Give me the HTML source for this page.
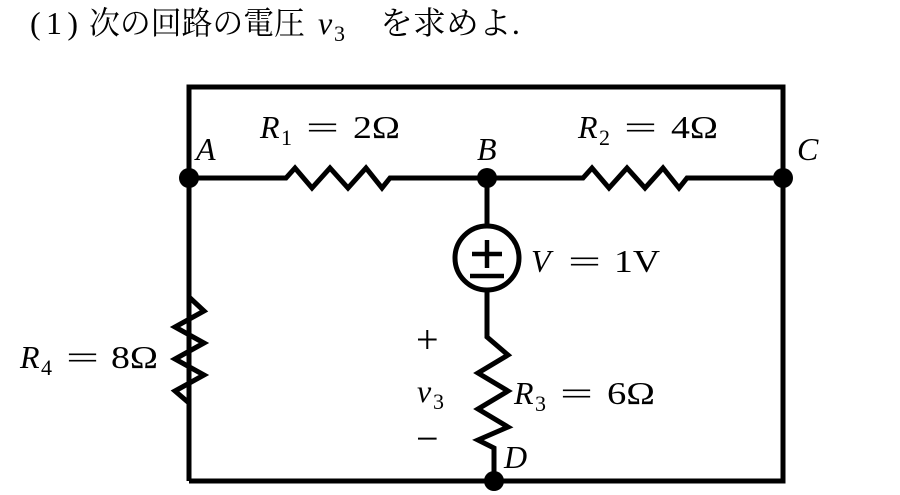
<!DOCTYPE html>
<html><head><meta charset="utf-8"><style>
body{margin:0;background:#fff;width:900px;height:495px;overflow:hidden}
svg{position:absolute;left:0;top:0}
text{font-family:"Liberation Serif","Noto Serif CJK SC",serif;font-size:32px;fill:#000}
.i{font-style:italic}
.s{font-size:22px}
</style></head><body>
<svg width="900" height="495" viewBox="0 0 900 495">
<g stroke="#000" stroke-width="5" fill="none" stroke-linejoin="miter">
<polyline points="189,481 189,87 783,87 783,481 189,481"/>
<polyline points="189,178 286,178 295,168 312,188 330,168 348,188 366,168 382,188 390,178 583,178 592,168 609,188 627,168 645,188 663,168 679,188 687,178 783,178"/>
<line x1="487" y1="178" x2="487" y2="226"/>
<circle cx="487" cy="258" r="32"/>
<polyline points="487,290 487,337 508,355 478,373 508,391 478,409 508,427 478,440 494,448 494,481"/>
<polyline points="189,297 204,311 175,327 204,343 175,359 204,375 175,391 189,403"/>
</g>
<g stroke="#000" stroke-width="4.5">
<line x1="472" y1="254" x2="502" y2="254"/>
<line x1="487" y1="240" x2="487" y2="268"/>
<line x1="470" y1="276" x2="504" y2="276"/>
</g>
<g fill="#000">
<circle cx="189" cy="178" r="10"/><circle cx="487" cy="178" r="10"/>
<circle cx="783" cy="178" r="10"/><circle cx="494" cy="481" r="10"/>
</g>
<text x="30" y="34" textLength="48" lengthAdjust="spacing">(1)</text>
<text x="89" y="34" textLength="216" lengthAdjust="spacingAndGlyphs">次の回路の電圧</text>
<text x="318" y="34" class="i">v</text><text x="334" y="41" class="s">3</text>
<text x="380" y="34" textLength="140" lengthAdjust="spacingAndGlyphs">を求めよ.</text>

<text x="196" y="160" class="i">A</text>
<text x="477" y="160" class="i">B</text>
<text x="797" y="160" class="i">C</text>
<text x="504" y="468" class="i">D</text>

<text x="260" y="138" class="i">R</text><text x="281" y="145" class="s">1</text><text x="306" y="138" textLength="33" lengthAdjust="spacingAndGlyphs">=</text><text x="353" y="138" textLength="47" lengthAdjust="spacingAndGlyphs">2Ω</text>
<text x="578" y="138" class="i">R</text><text x="599" y="145" class="s">2</text><text x="624" y="138" textLength="33" lengthAdjust="spacingAndGlyphs">=</text><text x="671" y="138" textLength="47" lengthAdjust="spacingAndGlyphs">4Ω</text>
<text x="531" y="272" class="i">V</text><text x="568" y="272" textLength="33" lengthAdjust="spacingAndGlyphs">=</text><text x="614" y="272" textLength="46" lengthAdjust="spacingAndGlyphs">1V</text>
<text x="514" y="404" class="i">R</text><text x="535" y="411" class="s">3</text><text x="560" y="404" textLength="33" lengthAdjust="spacingAndGlyphs">=</text><text x="607" y="404" textLength="48" lengthAdjust="spacingAndGlyphs">6Ω</text>
<text x="20" y="368" class="i">R</text><text x="41" y="375" class="s">4</text><text x="66" y="368" textLength="33" lengthAdjust="spacingAndGlyphs">=</text><text x="111" y="368" textLength="47" lengthAdjust="spacingAndGlyphs">8Ω</text>

<text x="416" y="353" style="font-size:40px">+</text>
<text x="417" y="402" class="i">v</text><text x="433" y="409" class="s">3</text>
<text x="416" y="452" style="font-size:40px">−</text>
</svg>
</body></html>
